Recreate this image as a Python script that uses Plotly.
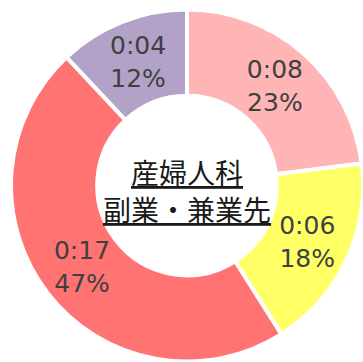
import plotly.graph_objects as go

# Share of time per destination (percent) and the matching time labels
shares = [23, 18, 47, 12]
times = ["0:08", "0:06", "0:17", "0:04"]
colors = ["#FFB5B5", "#FFFF66", "#FF7373", "#B3A2C7"]
center_lines = ["産婦人科", "副業・兼業先"]

labels = [f"{t}<br>{p}%" for t, p in zip(times, shares)]

fig = go.Figure(
    go.Pie(
        values=shares,
        text=labels,
        textinfo="text",
        textposition="inside",
        insidetextorientation="horizontal",
        hole=0.51,
        sort=False,
        direction="clockwise",
        rotation=0,
        marker=dict(colors=colors, line=dict(color="white", width=4)),
        textfont=dict(family="DejaVu Sans", size=25, color="#404040"),
        showlegend=False,
    )
)

# Centre title, one annotation per line
for line, y in zip(center_lines, [0.537, 0.434]):
    fig.add_annotation(
        x=0.5, y=y, xref="paper", yref="paper",
        text=f"<u>{line}</u>",
        showarrow=False,
        yanchor="middle",
        font=dict(family="Noto Sans CJK JP", size=28, color="#1a1a1a"),
    )

fig.update_layout(
    width=363, height=362,
    margin=dict(l=11, r=0, t=9, b=0),
    paper_bgcolor="white",
    plot_bgcolor="white",
)

fig.write_html("out.html")
